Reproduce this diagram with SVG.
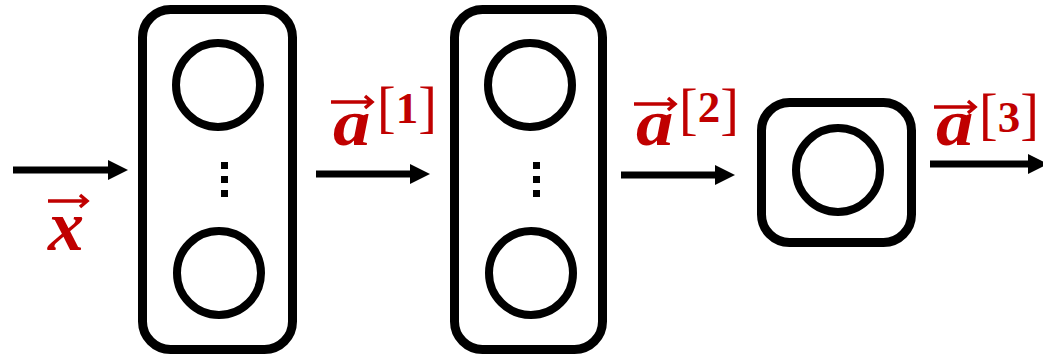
<svg xmlns="http://www.w3.org/2000/svg" width="1043" height="356" viewBox="0 0 1043 356">
<defs>
<style>
.box{fill:none;stroke:#000;stroke-width:9}
.neuron{fill:none;stroke:#000;stroke-width:8}
.edge{stroke:#000;stroke-width:7;fill:none}
.head{fill:#000}
.var{font-family:"Liberation Serif",serif;font-weight:bold;font-style:italic;fill:#C00000;font-size:72px}
.va{font-family:"Liberation Serif",serif;font-weight:bold;font-style:italic;fill:#C00000;font-size:65px}
.sup{font-family:"Liberation Serif",serif;font-weight:bold;fill:#C00000;font-size:45px}
.br{font-family:"Liberation Serif",serif;font-weight:normal;fill:#C00000;font-size:56px}
.vec{stroke:#C00000;stroke-width:3.5;fill:none}
</style>
</defs>
<rect width="1043" height="356" fill="#fff"/>
<g id="layer1">
<rect class="box" x="142.5" y="9.5" width="150" height="340" rx="28"/>
<circle class="neuron" cx="218" cy="85" r="42"/>
<circle class="neuron" cx="219" cy="273" r="42"/>
<rect x="221" y="162" width="7" height="7"/>
<rect x="221" y="176" width="7" height="7"/>
<rect x="221" y="190" width="7" height="7"/>
</g>
<g id="layer2">
<rect class="box" x="454.5" y="9.5" width="148" height="340" rx="28"/>
<circle class="neuron" cx="530" cy="85" r="42"/>
<circle class="neuron" cx="531" cy="273" r="42"/>
<rect x="533" y="162" width="7" height="7"/>
<rect x="533" y="176" width="7" height="7"/>
<rect x="533" y="190" width="7" height="7"/>
</g>
<g id="layer3">
<rect class="box" x="761.5" y="102.5" width="150" height="140" rx="28"/>
<circle class="neuron" cx="838" cy="170" r="42"/>
</g>
<g id="connectors">
<line class="edge" x1="13" y1="170" x2="110" y2="170"/>
<polygon class="head" points="108,160 128,170 108,180"/>
<line class="edge" x1="316" y1="174" x2="412" y2="174"/>
<polygon class="head" points="410,164 430,174 410,184"/>
<line class="edge" x1="621" y1="175" x2="717" y2="175"/>
<polygon class="head" points="715,165 735,175 715,185"/>
<line class="edge" x1="930" y1="164" x2="1030" y2="164"/>
<polygon class="head" points="1028,154 1048,164 1028,174"/>
</g>
<g id="labels">
<g id="label-x">
<text class="var" x="48" y="250">x</text>
<path class="vec" d="M48,201 H87 M80,195 L87,201 L80,207"/>
</g>
<g id="label-a1">
<text class="va" transform="translate(333,145) scale(1.15,1)">a</text>
<text class="br" x="377" y="126">[<tspan class="sup" dy="-3">1</tspan><tspan dy="3">]</tspan></text>
<path class="vec" d="M331,102 H372 M365,96 L372,102 L365,108"/>
</g>
<g id="label-a2">
<text class="va" transform="translate(636,145) scale(1.15,1)">a</text>
<text class="br" x="679" y="128">[<tspan class="sup" dy="-6">2</tspan><tspan dy="6">]</tspan></text>
<path class="vec" d="M634,104 H675 M668,98 L675,104 L668,110"/>
</g>
<g id="label-a3">
<text class="va" transform="translate(936,145) scale(1.15,1)">a</text>
<text class="br" x="979" y="133">[<tspan class="sup" dy="-1">3</tspan><tspan dy="1">]</tspan></text>
<path class="vec" d="M934,107 H975 M968,101 L975,107 L968,113"/>
</g>
</g>
</svg>
